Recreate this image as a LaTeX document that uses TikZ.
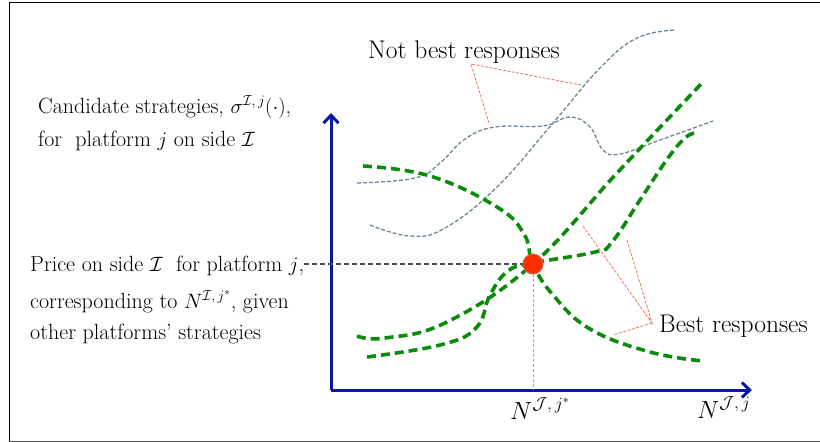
\documentclass[tikz,border=0pt]{standalone}
\usetikzlibrary{arrows.meta}
\definecolor{axisblue}{RGB}{10,25,165}
\definecolor{brgreen}{RGB}{10,140,10}
\definecolor{nbgray}{RGB}{110,135,150}
\definecolor{annorange}{RGB}{235,115,85}
\definecolor{dotred}{RGB}{255,45,0}
\definecolor{dotrim}{RGB}{200,100,80}
\begin{document}
\begin{tikzpicture}[x=1pt,y=-1pt,
  lbl/.style={anchor=base west,inner sep=0pt,font=\fontsize{22}{26}\selectfont},
  biglbl/.style={anchor=base west,inner sep=0pt,font=\fontsize{25.5}{30}\selectfont},
  axisline/.style={draw=axisblue,line width=3pt,-{Straight Barb[length=8pt,width=15pt]}},
  brcurve/.style={draw=brgreen,line width=3.6pt,dash pattern=on 9pt off 5pt},
  nbcurve/.style={draw=nbgray,line width=1.3pt,dash pattern=on 4pt off 2pt},
  annline/.style={draw=annorange,line width=0.8pt,dash pattern=on 3pt off 1.5pt},
  leader/.style={draw=black!70,line width=1.2pt,dash pattern=on 5pt off 3pt},
  dropline/.style={draw=black!35,line width=0.6pt,dash pattern=on 3pt off 2pt}]
\useasboundingbox (0,0) rectangle (820,442);
% frame
\draw[line width=1pt] (820,2) -- (9,2) -- (9,441);
\draw[line width=1pt,black!65] (9,441) -- (820,441);

% axes
\coordinate (origin) at (331,390);
\coordinate (ytip) at (331,113);
\coordinate (xtip) at (752,390);
\draw[axisline] (origin) -- (ytip);
\draw[axisline] (origin) -- (xtip);

% equilibrium dot
\node (dot) at (533,264) [circle,minimum size=20pt,inner sep=0pt] {};
\coordinate (dotfoot) at (533,390);

% not best responses
\draw[nbcurve] plot[smooth,tension=0.7] coordinates {(357,183) (415,178) (440,163) (465,139) (495,127) (543,126) (570,117) (590,127) (603,150) (620,154) (660,140) (713,121)};
\draw[nbcurve] plot[smooth,tension=0.7] coordinates {(370,225) (410,236) (445,228) (497,187) (553,123) (600,68) (637,38) (676,30)};

% best responses
\draw[brcurve] plot[smooth,tension=0.7] coordinates {(363,166) (430,176) (497,207) (524,234) (533,264) (553,295) (590,329) (650,352) (703,361)};
\draw[brcurve] plot[smooth,tension=0.7] coordinates {(357,336) (385,338) (447,322) (533,264) (617,173) (702,83)};
\draw[brcurve] plot[smooth,tension=0.7] coordinates {(367,357) (440,345) (476,328) (490,295) (508,271) (533,263) (595,252) (612,242) (640,200) (668,158) (685,138) (695,133)};

% drop line
\draw[dropline] (dot.center) -- (dotfoot);

% dot drawn over curves
\node[circle,minimum size=20pt,inner sep=0pt,fill=dotred,draw=dotrim,line width=1pt] at (dot) {};

% labels
\node[lbl] (cand1) at (38,113) {Candidate strategies, $\sigma^{\mathcal{I},\,j}(\cdot)$,};
\node[lbl] (cand2) at (38,146) {for\ \ platform $j$ on side $\mathcal{I}$};
\node[lbl] (price1) at (30,271) {Price on side $\mathcal{I}$\ \ for platform $j$,};
\node[lbl] (price2) at (30,308) {corresponding to $N^{\mathcal{I},\,j^*}$, given};
\node[lbl] (price3) at (30,339) {other platforms' strategies};
\draw[leader] (price1.east |- dot) -- (dot.west);

\node[biglbl] (nbr) at (368,58) {Not best responses};
\node[biglbl] (br) at (659,332) {Best responses};

\node[biglbl,anchor=base] (nstar) at (540,419) {$N^{\mathcal{J},\,j^*}$};
\node[biglbl] (nj) at (697,418) {$N^{\mathcal{J},\,j}$};

% annotation pointers
\coordinate (nbv) at (471,64);
\coordinate (nbA) at (581,85);
\coordinate (nbB) at (489,123);
\draw[annline] (nbA) -- (nbv) -- (nbB);
\coordinate (brv) at (652,323);
\coordinate (brA) at (583,226);
\coordinate (brB) at (627,240);
\coordinate (brC) at (613,335);
\draw[annline] (brA) -- (brv) -- (brB);
\draw[annline] (brv) -- (brC);
\end{tikzpicture}
\end{document}
